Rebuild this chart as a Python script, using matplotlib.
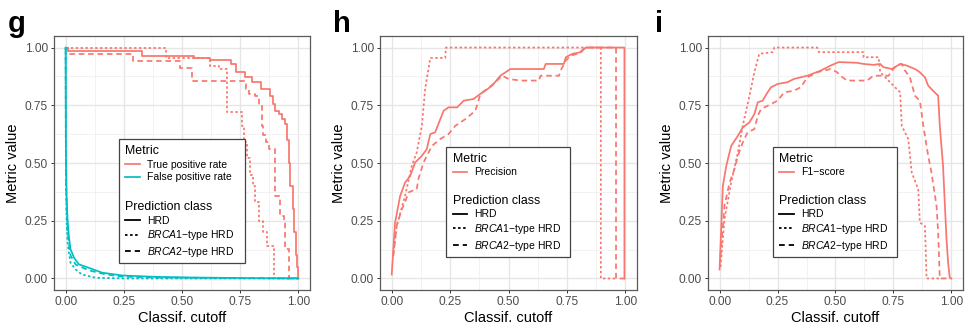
import numpy as np
import matplotlib
matplotlib.use("Agg")
import matplotlib.pyplot as plt
from matplotlib.lines import Line2D
from matplotlib.patches import Rectangle

plt.rcParams['font.family'] = ['Liberation Sans', 'DejaVu Sans']
plt.rcParams['mathtext.fontset'] = 'custom'
plt.rcParams['mathtext.it'] = 'Liberation Sans:italic'
plt.rcParams['mathtext.rm'] = 'Liberation Sans'

RED = '#F8766D'
TEAL = '#00BFC4'

# panel g: true positive rate (steps) and false positive rate
g_tpr_hrd_x = [0, 0.01, 0.33, 0.55, 0.62, 0.71, 0.73, 0.77, 0.80, 0.84, 0.88, 0.89, 0.90,
               0.915, 0.93, 0.944, 0.951, 0.958, 0.966, 0.975, 0.98, 0.988, 0.994, 1.0]
g_tpr_hrd_y = [1.0, 0.983, 0.965, 0.955, 0.944, 0.929, 0.893, 0.871, 0.85, 0.82, 0.79, 0.755,
               0.726, 0.712, 0.69, 0.669, 0.60, 0.50, 0.40, 0.30, 0.20, 0.10, 0.05, 0.0]
g_tpr_brca1_x = [0, 0.43, 0.62, 0.66, 0.694, 0.758, 0.765, 0.78, 0.794, 0.805, 0.815, 0.83,
                 0.85, 0.866, 0.894, 1.0]
g_tpr_brca1_y = [1.0, 0.955, 0.92, 0.907, 0.72, 0.66, 0.59, 0.52, 0.45, 0.40, 0.33, 0.25,
                 0.20, 0.14, 0.0, 0.0]
g_tpr_brca2_x = [0, 0.01, 0.29, 0.49, 0.544, 0.773, 0.787, 0.815, 0.83, 0.844, 0.85, 0.86,
                 0.873, 0.90, 0.923, 0.937, 0.944, 0.958, 1.0]
g_tpr_brca2_y = [1.0, 0.972, 0.94, 0.91, 0.853, 0.82, 0.80, 0.79, 0.75, 0.66, 0.62, 0.59,
                 0.56, 0.357, 0.27, 0.25, 0.126, 0.0, 0.0]
g_fpr_hrd_x = [0, 0.001, 0.004, 0.008, 0.014, 0.021, 0.036, 0.057, 0.10, 0.157, 0.243, 0.386,
               0.55, 0.75, 1.0]
g_fpr_hrd_y = [1.0, 0.55, 0.36, 0.26, 0.18, 0.126, 0.09, 0.061, 0.046, 0.025, 0.013, 0.007,
               0.004, 0.002, 0.0]
g_fpr_brca1_x = [0, 0.001, 0.004, 0.008, 0.014, 0.021, 0.043, 0.07, 0.13, 0.25, 1.0]
g_fpr_brca1_y = [1.0, 0.45, 0.25, 0.16, 0.11, 0.068, 0.039, 0.017, 0.003, 0.0, 0.0]
g_fpr_brca2_x = [0, 0.001, 0.004, 0.008, 0.014, 0.021, 0.043, 0.10, 0.17, 0.24, 0.4, 1.0]
g_fpr_brca2_y = [1.0, 0.5, 0.3, 0.21, 0.15, 0.1, 0.06, 0.035, 0.018, 0.008, 0.004, 0.0]

# panel h: precision
h_hrd_x = [0, 0.014, 0.036, 0.057, 0.079, 0.10, 0.129, 0.15, 0.165, 0.186, 0.208, 0.222,
           0.243, 0.28, 0.308, 0.35, 0.38, 0.40, 0.43, 0.465, 0.508, 0.651, 0.659, 0.737,
           0.745, 0.774, 0.81, 0.83, 0.996, 0.996]
h_hrd_y = [0.017, 0.24, 0.357, 0.415, 0.444, 0.502, 0.531, 0.56, 0.625, 0.633, 0.69, 0.726,
           0.741, 0.741, 0.77, 0.777, 0.8, 0.813, 0.835, 0.878, 0.907, 0.907, 0.929, 0.929,
           0.958, 0.973, 0.98, 1.0, 1.0, 0.0]
h_brca1_x = [0.007, 0.021, 0.057, 0.086, 0.107, 0.129, 0.143, 0.165, 0.229, 0.232, 0.895,
             0.895, 0.96]
h_brca1_y = [0.11, 0.227, 0.357, 0.488, 0.546, 0.661, 0.82, 0.955, 0.955, 1.0, 1.0, 0.0, 0.0]
h_brca2_x = [0.007, 0.021, 0.043, 0.057, 0.071, 0.086, 0.107, 0.114, 0.136, 0.172, 0.208,
             0.243, 0.272, 0.315, 0.358, 0.38, 0.408, 0.444, 0.472, 0.50, 0.55, 0.63, 0.637,
             0.716, 0.723, 0.745, 0.766, 0.795, 0.823, 0.83, 0.96, 0.96, 1.0]
h_brca2_y = [0.097, 0.227, 0.30, 0.329, 0.372, 0.379, 0.386, 0.43, 0.502, 0.574, 0.604,
             0.625, 0.661, 0.69, 0.726, 0.80, 0.82, 0.85, 0.878, 0.864, 0.857, 0.857, 0.878,
             0.878, 0.90, 0.944, 0.965, 0.973, 0.994, 1.0, 1.0, 0.0, 0.0]

# panel i: F1-score
i_hrd_x = [0, 0.014, 0.029, 0.05, 0.079, 0.10, 0.129, 0.15, 0.165, 0.186, 0.207, 0.222, 0.25,
           0.293, 0.321, 0.379, 0.436, 0.479, 0.514, 0.593, 0.621, 0.664, 0.693, 0.707, 0.743,
           0.779, 0.807, 0.843, 0.864, 0.886, 0.90, 0.921, 0.943, 0.95, 0.964, 0.979, 0.986,
           0.993, 1.0]
i_hrd_y = [0.039, 0.40, 0.488, 0.574, 0.618, 0.654, 0.676, 0.712, 0.763, 0.77, 0.806, 0.828,
           0.842, 0.85, 0.864, 0.878, 0.90, 0.922, 0.937, 0.934, 0.929, 0.925, 0.929, 0.915,
           0.907, 0.929, 0.922, 0.907, 0.893, 0.871, 0.835, 0.813, 0.791, 0.661, 0.488, 0.169,
           0.068, 0.003, 0.0]
i_brca1_x = [0.004, 0.021, 0.05, 0.079, 0.10, 0.129, 0.15, 0.171, 0.229, 0.236, 0.421, 0.429,
             0.621, 0.621, 0.686, 0.693, 0.75, 0.779, 0.786, 0.814, 0.829, 0.857, 0.864, 0.886,
             0.893, 0.95]
i_brca1_y = [0.05, 0.256, 0.415, 0.546, 0.661, 0.792, 0.893, 0.973, 0.98, 1.0, 1.0, 0.98, 0.98,
             0.958, 0.958, 0.893, 0.835, 0.806, 0.661, 0.604, 0.459, 0.386, 0.242, 0.227, 0.0,
             0.0]
i_brca2_x = [0.004, 0.021, 0.043, 0.064, 0.079, 0.10, 0.121, 0.15, 0.165, 0.179, 0.222, 0.25,
             0.279, 0.321, 0.35, 0.379, 0.421, 0.479, 0.507, 0.521, 0.55, 0.636, 0.664, 0.729,
             0.743, 0.764, 0.786, 0.80, 0.821, 0.843, 0.864, 0.879, 0.90, 0.914, 0.936, 0.943,
             0.95, 1.0]
i_brca2_y = [0.097, 0.314, 0.415, 0.473, 0.531, 0.589, 0.633, 0.647, 0.705, 0.734, 0.755, 0.77,
             0.806, 0.813, 0.828, 0.871, 0.893, 0.907, 0.893, 0.878, 0.857, 0.857, 0.878, 0.878,
             0.90, 0.922, 0.929, 0.90, 0.871, 0.791, 0.77, 0.661, 0.531, 0.459, 0.314, 0.198,
             0.0, 0.0]

ticks = [0, 0.25, 0.5, 0.75, 1.0]
tick_labels = ['0.00', '0.25', '0.50', '0.75', '1.00']
class_labels = ['HRD', r'$\it{BRCA1}$' + '\u2212type HRD', r'$\it{BRCA2}$' + '\u2212type HRD']

SOLID = '-'
DOTTED = (0, (1.4, 1.4))
DASHED = (0, (3.2, 2.2))
LW = 1.25


def style_axes(ax):
    ax.set_xlim(-0.05, 1.05)
    ax.set_ylim(-0.05, 1.05)
    ax.set_xticks(ticks)
    ax.set_xticklabels(tick_labels)
    ax.set_yticks(ticks)
    ax.set_yticklabels(tick_labels)
    ax.set_xticks([0.125, 0.375, 0.625, 0.875], minor=True)
    ax.set_yticks([0.125, 0.375, 0.625, 0.875], minor=True)
    ax.grid(which='major', color='#E6E6E6', lw=1.0)
    ax.grid(which='minor', color='#F0F0F0', lw=0.6)
    ax.set_axisbelow(True)
    ax.tick_params(which='minor', length=0)
    ax.tick_params(which='major', length=2.5, width=0.7, color='#333333',
                   labelcolor='#4D4D4D', labelsize=8.6, pad=2)
    for s in ax.spines.values():
        s.set_color('#5A5A5A')
        s.set_linewidth(0.9)
    ax.set_xlabel('Classif. cutoff', fontsize=10.5, labelpad=2)
    ax.set_ylabel('Metric value', fontsize=10.5, labelpad=3)


def add_legend(ax, metrics, box, top1, top2):
    x0, y0, x1, y1 = box
    ax.add_patch(Rectangle((x0, y0), x1 - x0, y1 - y0, transform=ax.transAxes,
                           facecolor='white', edgecolor='#444444', lw=0.9, zorder=5))
    h1 = [Line2D([], [], color=c, lw=LW) for _, c in metrics]
    leg1 = ax.legend(h1, [m for m, _ in metrics], title='Metric', loc='upper left',
                     bbox_to_anchor=(x0 + 0.025, top1), frameon=False, fontsize=7.5,
                     title_fontsize=8.9, handlelength=1.4, handletextpad=0.7,
                     labelspacing=0.25, borderpad=0, borderaxespad=0)
    leg1._legend_box.align = 'left'
    leg1.set_zorder(6)
    ax.add_artist(leg1)
    h2 = [Line2D([], [], color='black', lw=1.3, linestyle=ls) for ls in (SOLID, DOTTED, DASHED)]
    leg2 = ax.legend(h2, class_labels, title='Prediction class', loc='upper left',
                     bbox_to_anchor=(x0 + 0.025, top2), frameon=False, fontsize=7.5,
                     title_fontsize=8.9, handlelength=1.4, handletextpad=0.7,
                     labelspacing=0.25, borderpad=0, borderaxespad=0)
    leg2._legend_box.align = 'left'
    leg2.set_zorder(6)


fig = plt.figure(figsize=(9.68, 3.29), dpi=100)
ax_g = fig.add_axes([0.0558, 0.1185, 0.2645, 0.7721])
ax_h = fig.add_axes([0.3926, 0.1185, 0.2655, 0.7721])
ax_i = fig.add_axes([0.7314, 0.1185, 0.2634, 0.7721])

# g
ax_g.step(g_tpr_hrd_x, g_tpr_hrd_y, where='post', color=RED, lw=LW, ls=SOLID)
ax_g.step(g_tpr_brca1_x, g_tpr_brca1_y, where='post', color=RED, lw=LW, ls=DOTTED)
ax_g.step(g_tpr_brca2_x, g_tpr_brca2_y, where='post', color=RED, lw=LW, ls=DASHED)
ax_g.plot(g_fpr_hrd_x, g_fpr_hrd_y, color=TEAL, lw=LW, ls=SOLID)
ax_g.plot(g_fpr_brca1_x, g_fpr_brca1_y, color=TEAL, lw=LW, ls=DOTTED)
ax_g.plot(g_fpr_brca2_x, g_fpr_brca2_y, color=TEAL, lw=LW, ls=DASHED)

# h
ax_h.plot(h_hrd_x, h_hrd_y, color=RED, lw=LW, ls=SOLID)
ax_h.plot(h_brca1_x, h_brca1_y, color=RED, lw=LW, ls=DOTTED)
ax_h.plot(h_brca2_x, h_brca2_y, color=RED, lw=LW, ls=DASHED)

# i
ax_i.plot(i_hrd_x, i_hrd_y, color=RED, lw=LW, ls=SOLID)
ax_i.plot(i_brca1_x, i_brca1_y, color=RED, lw=LW, ls=DOTTED)
ax_i.plot(i_brca2_x, i_brca2_y, color=RED, lw=LW, ls=DASHED)

for ax in (ax_g, ax_h, ax_i):
    style_axes(ax)

add_legend(ax_g, [('True positive rate', RED), ('False positive rate', TEAL)],
           (0.254, 0.106, 0.746, 0.594), 0.57, 0.35)
add_legend(ax_h, [('Precision', RED)], (0.257, 0.13, 0.739, 0.563), 0.54, 0.375)
add_legend(ax_i, [('F1\u2212score', RED)], (0.255, 0.13, 0.741, 0.563), 0.54, 0.375)

for lab, xp in (('g', 8), ('h', 333), ('i', 655)):
    fig.text(xp / 968, 1 - 32 / 329, lab, fontsize=21, fontweight='bold', va='baseline')

fig.savefig('out.png', dpi=100)
